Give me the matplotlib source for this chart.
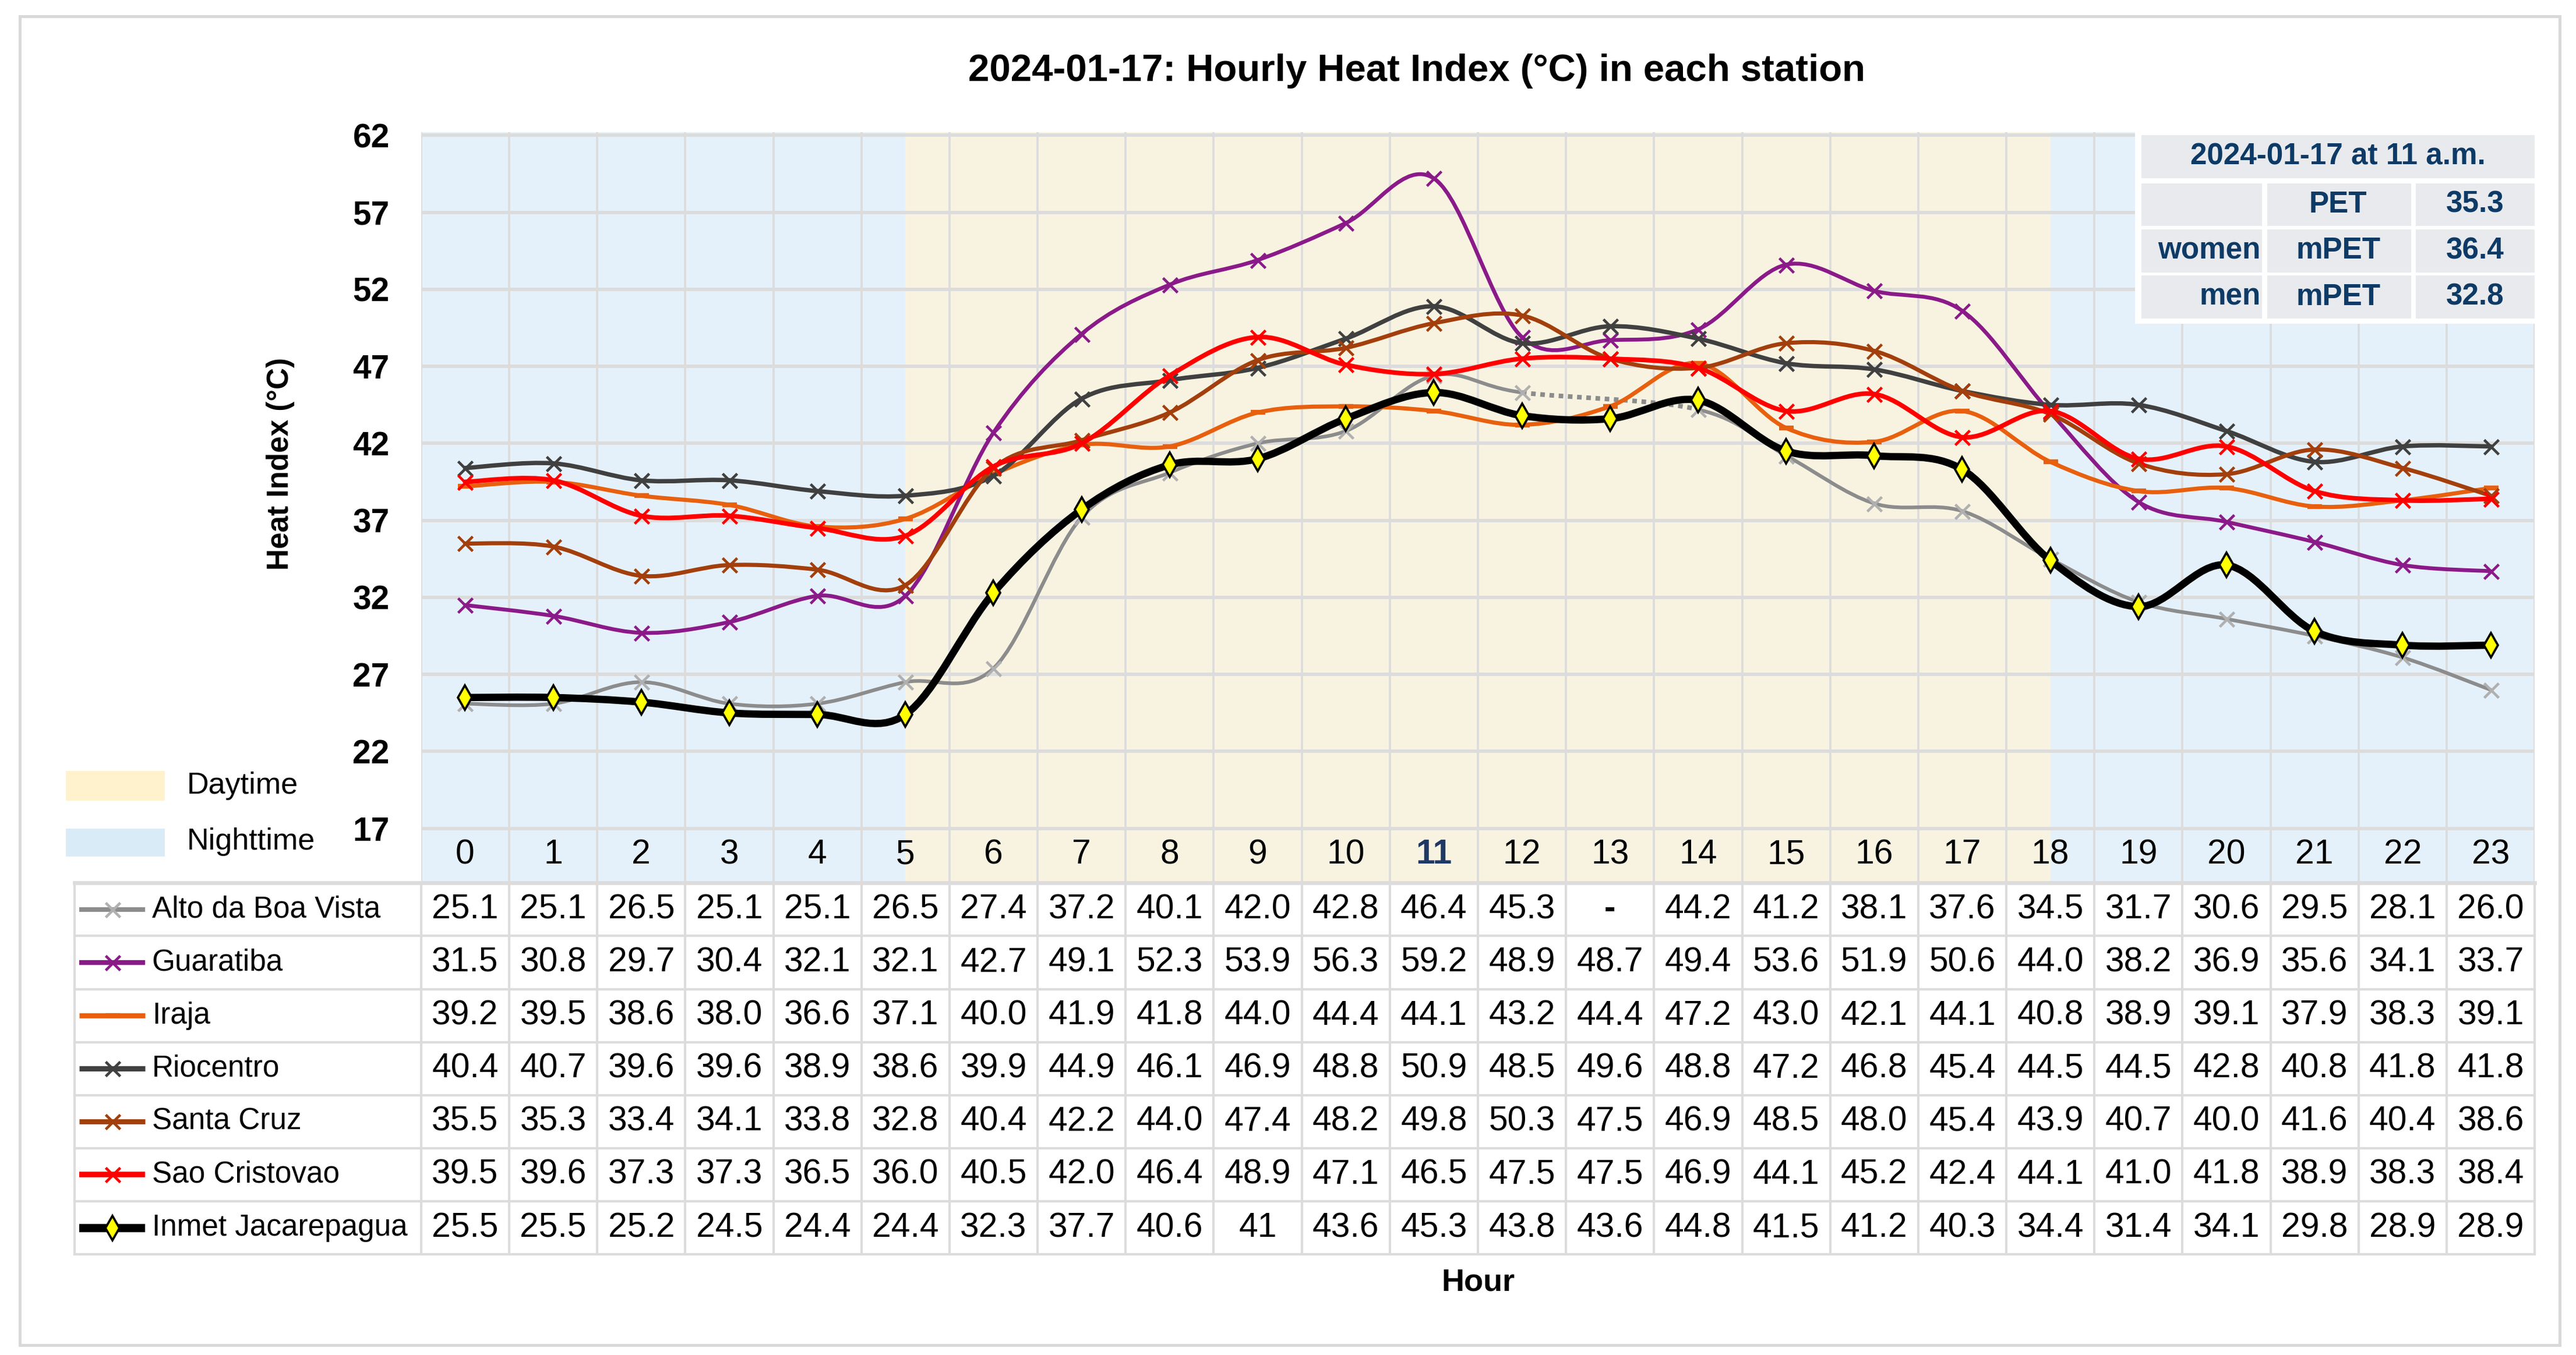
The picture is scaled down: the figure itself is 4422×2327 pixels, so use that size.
import numpy as np
import matplotlib
matplotlib.use('Agg')
import matplotlib.pyplot as plt
from matplotlib.path import Path
from matplotlib.patches import PathPatch, Rectangle
from matplotlib import font_manager

# ---- data ----
hours = list(range(24))
stations = ['Alto da Boa Vista', 'Guaratiba', 'Iraja', 'Riocentro',
            'Santa Cruz', 'Sao Cristovao', 'Inmet Jacarepagua']
alto = [25.1, 25.1, 26.5, 25.1, 25.1, 26.5, 27.4, 37.2, 40.1, 42.0, 42.8, 46.4,
        45.3, None, 44.2, 41.2, 38.1, 37.6, 34.5, 31.7, 30.6, 29.5, 28.1, 26.0]
guaratiba = [31.5, 30.8, 29.7, 30.4, 32.1, 32.1, 42.7, 49.1, 52.3, 53.9, 56.3, 59.2,
             48.9, 48.7, 49.4, 53.6, 51.9, 50.6, 44.0, 38.2, 36.9, 35.6, 34.1, 33.7]
iraja = [39.2, 39.5, 38.6, 38.0, 36.6, 37.1, 40.0, 41.9, 41.8, 44.0, 44.4, 44.1,
         43.2, 44.4, 47.2, 43.0, 42.1, 44.1, 40.8, 38.9, 39.1, 37.9, 38.3, 39.1]
riocentro = [40.4, 40.7, 39.6, 39.6, 38.9, 38.6, 39.9, 44.9, 46.1, 46.9, 48.8, 50.9,
             48.5, 49.6, 48.8, 47.2, 46.8, 45.4, 44.5, 44.5, 42.8, 40.8, 41.8, 41.8]
santa_cruz = [35.5, 35.3, 33.4, 34.1, 33.8, 32.8, 40.4, 42.2, 44.0, 47.4, 48.2, 49.8,
              50.3, 47.5, 46.9, 48.5, 48.0, 45.4, 43.9, 40.7, 40.0, 41.6, 40.4, 38.6]
sao_cristovao = [39.5, 39.6, 37.3, 37.3, 36.5, 36.0, 40.5, 42.0, 46.4, 48.9, 47.1, 46.5,
                 47.5, 47.5, 46.9, 44.1, 45.2, 42.4, 44.1, 41.0, 41.8, 38.9, 38.3, 38.4]
inmet = [25.5, 25.5, 25.2, 24.5, 24.4, 24.4, 32.3, 37.7, 40.6, 41, 43.6, 45.3,
         43.8, 43.6, 44.8, 41.5, 41.2, 40.3, 34.4, 31.4, 34.1, 29.8, 28.9, 28.9]
series = [alto, guaratiba, iraja, riocentro, santa_cruz, sao_cristovao, inmet]
yticks = [17, 22, 27, 32, 37, 42, 47, 52, 57, 62]
pet_rows = [['', 'PET', '35.3'], ['women', 'mPET', '36.4'], ['men', 'mPET', '32.8']]

# ---- styles ----
colors = ['#8C8C8C', '#8B1A89', '#E8600E', '#404040', '#A33F0C', '#FF0000', '#000000']
mcolors = ['#B0B0B0', '#8B1A89', '#E8600E', '#404040', '#A33F0C', '#FF0000', '#FFFF00']
markers = ['x', 'x', '_', 'x', 'x', 'x', 'd']
widths = [1.5, 1.6, 1.7, 1.8, 1.7, 1.9, 3.0]
NIGHT = '#E5F1FA'
DAY = '#F8F3E1'
GRID = '#DCDCDC'
NAVY = '#0E3A66'


def has_font(name):
    try:
        font_manager.findfont(font_manager.FontProperties(family=name),
                              fallback_to_default=False)
        return True
    except Exception:
        return False


if has_font('Liberation Sans Narrow'):
    FONT, k = 'Liberation Sans Narrow', 1.15
else:
    FONT, k = 'Liberation Sans', 0.94
plt.rcParams['font.family'] = [FONT, 'DejaVu Sans']
VAL = 15 * k      # table numbers, hour labels
LAB = 12.3        # station names


def smooth(pts):
    # excel-like smoothed line as bezier pieces
    pts = np.asarray(pts, dtype=float)
    n = len(pts)
    segs = []
    for i in range(n - 1):
        p0 = pts[i - 1] if i > 0 else pts[i]
        p1, p2 = pts[i], pts[i + 1]
        p3 = pts[i + 2] if i + 2 < n else pts[i + 1]
        c1 = p1 + (p2 - p0) / 6.0
        c2 = p2 - (p3 - p1) / 6.0
        segs.append(Path([p1, c1, c2, p2], [Path.MOVETO, Path.CURVE4, Path.CURVE4, Path.CURVE4]))
    return segs


W, H, DPI = 4422, 2327, 300
fig = plt.figure(figsize=(W / DPI, H / DPI), dpi=DPI)


def fx(px):
    return px / 1560.0


def fy(py):
    return 1 - py / 821.0


# ---- main chart ----
ax = fig.add_axes([fx(255), fy(535), fx(1535) - fx(255), fy(80) - fy(535)])
ax.set_xlim(-0.5, 23.5)
ax.set_ylim(13.46, 62.21)
ax.axvspan(-0.5, 5, color=NIGHT, lw=0, zorder=0)
ax.axvspan(5, 18, color=DAY, lw=0, zorder=0)
ax.axvspan(18, 23.5, color=NIGHT, lw=0, zorder=0)
for y in yticks:
    ax.axhline(y, color=GRID, lw=1.4, zorder=1)
for x in np.arange(-0.5, 24):
    ax.axvline(x, color=GRID, lw=0.9, zorder=1)
for s in ax.spines.values():
    s.set_visible(False)
ax.set_xticks([])
ax.set_yticks(yticks)
ax.set_yticklabels([str(t) for t in yticks], fontsize=14.5 * k, fontweight='bold')
ax.tick_params(axis='y', length=0, pad=13)

for h in hours:
    if h == 11:
        ax.text(h, 15.3, str(h), ha='center', va='center', fontsize=VAL,
                fontweight='bold', color='#1F3864')
    else:
        ax.text(h, 15.3, str(h), ha='center', va='center', fontsize=VAL)

for i, vals in enumerate(series):
    xs = [h for h, v in zip(hours, vals) if v is not None]
    ys = [v for v in vals if v is not None]
    segs = smooth(list(zip(xs, ys)))
    for j, seg in enumerate(segs):
        gap = xs[j + 1] - xs[j] > 1
        ax.add_patch(PathPatch(seg, facecolor='none', edgecolor=colors[i],
                               lw=widths[i] + (0.4 if gap else 0),
                               ls=(0, (1, 1)) if gap else '-',
                               capstyle='butt' if gap else 'round',
                               joinstyle='round', zorder=3 + i))
    if markers[i] == 'd':
        ax.plot(xs, ys, ls='none', marker='d', ms=7, mfc=mcolors[i], mec='black',
                mew=0.9, zorder=3 + i)
    elif markers[i] == '_':
        ax.plot(xs, ys, ls='none', marker='_', ms=6, mec=mcolors[i], mew=2.0, zorder=3 + i)
    else:
        ax.plot(xs, ys, ls='none', marker='x', ms=6, mec=mcolors[i], mew=1.1, zorder=3 + i)

# ---- data table ----
axt = fig.add_axes([fx(255), fy(760), fx(1535) - fx(255), fy(535) - fy(760)])
axt.set_xlim(-0.5, 23.5)
axt.set_ylim(7, 0)
axt.axis('off')
x_left = -0.5 - (255 - 45) / 53.33
for r in range(8):
    axt.plot([x_left, 23.5], [r, r], color=GRID, lw=1.6 if r == 0 else 1.0,
             clip_on=False, zorder=1)
for x in [x_left] + list(np.arange(-0.5, 24)):
    axt.plot([x, x], [0, 7], color=GRID, lw=1.0, clip_on=False, zorder=1)

for r, (name, vals) in enumerate(zip(stations, series)):
    yc = r + 0.5
    x0, x1 = -0.5 - (255 - 48) / 53.33, -0.5 - (255 - 88) / 53.33
    axt.plot([x0, x1], [yc, yc], color=colors[r], lw=widths[r] + 0.4, clip_on=False,
             solid_capstyle='butt', zorder=2)
    xm = (x0 + x1) / 2
    if markers[r] == 'd':
        axt.plot([xm], [yc], marker='d', ms=7, mfc=mcolors[r], mec='black', mew=0.9,
                 clip_on=False, zorder=3)
    elif markers[r] == '_':
        axt.plot([xm], [yc], marker='_', ms=6, mec=mcolors[r], mew=2.0, clip_on=False, zorder=3)
    else:
        axt.plot([xm], [yc], marker='x', ms=6, mec=mcolors[r], mew=1.1, clip_on=False, zorder=3)
    axt.text(-0.5 - (255 - 92) / 53.33, yc, name, ha='left', va='center',
             fontsize=LAB, clip_on=False)
    for h, v in zip(hours, vals):
        if v is None:
            axt.text(h, yc, '-', ha='center', va='center', fontsize=VAL, fontweight='bold')
        elif isinstance(v, int):
            axt.text(h, yc, str(v), ha='center', va='center', fontsize=VAL)
        else:
            axt.text(h, yc, f'{v:.1f}', ha='center', va='center', fontsize=VAL)

# ---- titles ----
fig.text(fx(858), fy(43), '2024-01-17: Hourly Heat Index (°C) in each station',
         ha='center', va='center', fontsize=15.7, fontweight='bold')
fig.text(fx(170), fy(281), 'Heat Index (°C)', ha='center', va='center', rotation=90,
         fontsize=12.3, fontweight='bold', family='Liberation Sans')
fig.text(fx(895), fy(777), 'Hour', ha='center', va='center', fontsize=13,
         fontweight='bold')

# ---- day / night legend ----
fig.patches.append(Rectangle((fx(40), fy(485)), fx(60), fy(467) - fy(485),
                             transform=fig.transFigure, facecolor='#FFF2CC', lw=0))
fig.patches.append(Rectangle((fx(40), fy(519)), fx(60), fy(502) - fy(519),
                             transform=fig.transFigure, facecolor='#DAEBF8', lw=0))
fig.text(fx(113), fy(476), 'Daytime', ha='left', va='center', fontsize=12.5)
fig.text(fx(113), fy(510), 'Nighttime', ha='left', va='center', fontsize=12.5)

# ---- PET box ----
CELL = '#E8EAED'
fig.patches.append(Rectangle((fx(1293), fy(196)), fx(244), fy(78) - fy(196),
                             transform=fig.transFigure, facecolor='white', lw=0))
fig.patches.append(Rectangle((fx(1297), fy(108)), fx(238), fy(82) - fy(108),
                             transform=fig.transFigure, facecolor=CELL, lw=0))
fig.text(fx(1416), fy(95), '2024-01-17 at 11 a.m.', ha='center', va='center',
         fontsize=12.3, fontweight='bold', color=NAVY)
col_edges = [(1297, 1370), (1373, 1460), (1463, 1535)]
row_edges = [(111, 137), (139, 165), (167, 193)]
for (y0, y1), row in zip(row_edges, pet_rows):
    for c, (x0, x1) in enumerate(col_edges):
        fig.patches.append(Rectangle((fx(x0), fy(y1)), fx(x1 - x0), fy(y0) - fy(y1),
                                     transform=fig.transFigure, facecolor=CELL, lw=0))
    yc = fy((y0 + y1) / 2)
    fig.text(fx(1369), yc, row[0], ha='right', va='center', fontsize=12.3,
             fontweight='bold', color=NAVY)
    fig.text(fx(1416), yc, row[1], ha='center', va='center', fontsize=12.3,
             fontweight='bold', color=NAVY)
    fig.text(fx(1499), yc, row[2], ha='center', va='center', fontsize=12.3,
             fontweight='bold', color=NAVY)

# ---- outer frame ----
fig.patches.append(Rectangle((fx(12), fy(815)), fx(1538), fy(10) - fy(815),
                             transform=fig.transFigure, facecolor='none',
                             edgecolor='#D9D9D9', lw=1.2))

fig.savefig('out.png', dpi=DPI, facecolor='white')
